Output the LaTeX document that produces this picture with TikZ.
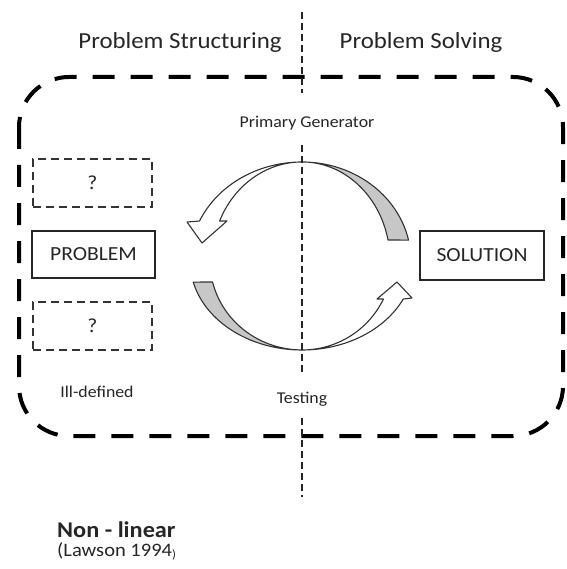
\documentclass[tikz,border=0pt]{standalone}
\usepackage{fontspec}
\setmainfont{Carlito}[FakeStretch=1.08]
\begin{document}
\begin{tikzpicture}[x=1pt,y=-1pt,
  txt/.style={text=black!85, inner sep=0pt},
  small/.style={txt, font=\fontsize{16.5}{18}\selectfont},
  heading/.style={txt, font=\fontsize{23}{26}\selectfont},
  solidbox/.style={draw=black!85, line width=1.6pt, inner sep=0pt,
    text=black!85, font=\fontsize{20}{22}\selectfont},
  qbox/.style={draw=black!80, line width=1.5pt, dash pattern=on 8pt off 5pt,
    inner sep=0pt, minimum width=119pt, minimum height=48pt,
    text=black!85, font=\fontsize{20}{22}\selectfont},
  frame/.style={draw=black, line width=4pt, dash pattern=on 22pt off 16pt,
    rounded corners=50pt},
  divider/.style={draw=black!85, line width=1.3pt, dash pattern=on 7pt off 4pt},
  sweep/.style={draw=black!80, line width=1.1pt, line join=round},
  shaded/.style={sweep, fill=black!22},
  hollow/.style={sweep, fill=white}]
\useasboundingbox (0,0) rectangle (566,569);

% outer dashed frame
\draw[frame] (19,77) rectangle (563,436);

% top-right shaded band
\draw[shaded] (302,162) arc[start angle=-90, end angle=-12.2, x radius=109, y radius=99]
  -- (388,240) arc[start angle=-12.2, end angle=-90, x radius=88, y radius=99] -- cycle;
% top-left hollow arrow
\draw[hollow] (302,162) arc[start angle=-90, end angle=-156.2, x radius=112, y radius=99]
  -- (187,222) -- (202,243) -- (227,221)
  -- (219.6,221) arc[start angle=-156.2, end angle=-90, x radius=90, y radius=99] -- cycle;
% bottom-left shaded band
\draw[shaded] (302,350) arc[start angle=90, end angle=166.3, x radius=112, y radius=89]
  -- (212.6,282) arc[start angle=166.3, end angle=90, x radius=92, y radius=89] -- cycle;
% bottom-right hollow arrow
\draw[hollow] (302,350) arc[start angle=90, end angle=25.3, x radius=112, y radius=89]
  -- (412,298) -- (397,282) -- (377,299)
  -- (383.4,299) arc[start angle=25.3, end angle=90, x radius=90, y radius=89] -- cycle;

% vertical divider between the two phases
\coordinate (v1) at (302,12);
\coordinate (v2) at (302,93);
\coordinate (v3) at (302,145);
\coordinate (v4) at (302,373);
\coordinate (v5) at (302,418);
\coordinate (v6) at (302,497);
\draw[divider] (v1) -- (v2);
\draw[divider] (v3) -- (v4);
\draw[divider] (v5) -- (v6);

% headings
\node[heading] (struct) at (180,42) {Problem Structuring};
\node[heading] (solve) at (421,42) {Problem Solving};

% cycle labels
\node[small] (gen) at (307,123) {Primary Generator};
\node[small] (test) at (302,399) {Testing};
\node[small] (ill) at (97,392) {Ill-defined};

% problem side
\node[qbox] (q1) at (92.5,183) {?};
\node[solidbox, minimum width=123pt, minimum height=47pt] (problem) at (93.5,254.5) {PROBLEM};
\node[qbox] (q2) at (92.5,326) {?};

% solution side
\node[solidbox, minimum width=124pt, minimum height=49pt] (solution) at (482,255.5) {SOLUTION};

% caption
\node[txt, anchor=west, font=\fontsize{22.5}{24}\selectfont\bfseries] (nl) at (57,530) {Non - linear};
\node[txt, anchor=west, font=\fontsize{19}{21}\selectfont] (ref) at (57,551)
  {(Lawson 1994{\fontsize{12}{12}\selectfont\raisebox{-2pt}{)}}};
\end{tikzpicture}
\end{document}
